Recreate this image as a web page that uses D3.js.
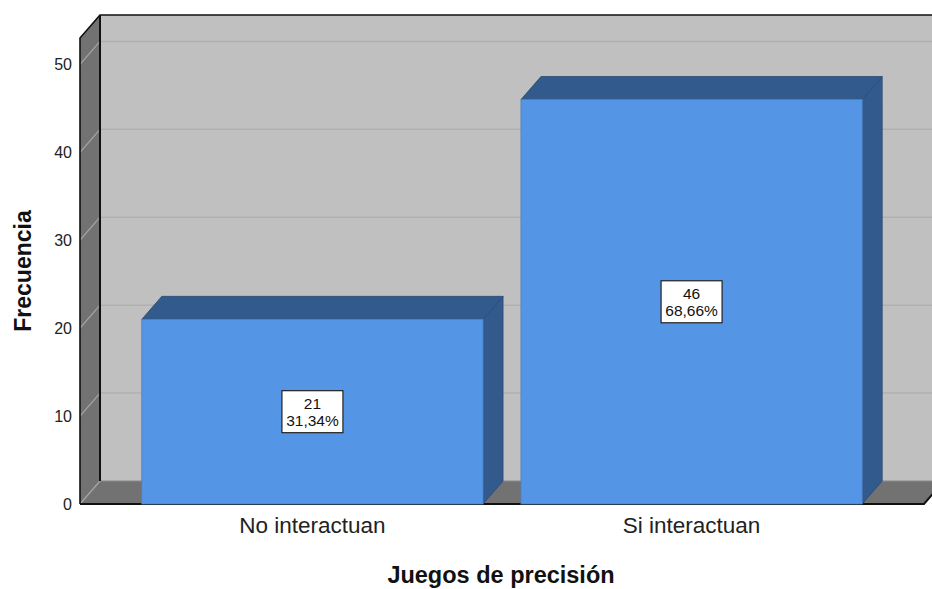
<!DOCTYPE html>
<html>
<head>
<meta charset="utf-8">
<script src="https://cdn.jsdelivr.net/npm/d3@7"></script>
<style>
  html, body { margin: 0; padding: 0; background: #ffffff; }
  svg { display: block; font-family: "Liberation Sans", Arial, sans-serif; }
</style>
</head>
<body>
<svg id="chart" width="932" height="589"></svg>
<script>
// Data
const categories = ["No interactuan", "Si interactuan"];
const counts = [21, 46];
const percents = ["31,34%", "68,66%"];
const yTicks = [0, 10, 20, 30, 40, 50];
const xTitle = "Juegos de precisión";
const yTitle = "Frecuencia";

(function draw() {
  const W = 932;
  const svg = d3.select("#chart");

  // Front plane and 3D depth offset
  const pLeft = 80, pRight = 924, pBottom = 504, pTop = 38;
  const dx = 20, dy = -23;

  const x = d3.scaleBand().domain(categories).range([pLeft, pRight])
    .paddingInner(0.1).paddingOuter(0.163);
  const y = d3.scaleLinear().domain([0, 53]).range([pBottom, pTop]);

  const colors = {
    wall: "#c0c0c0",
    sideWall: "#727272",
    grid: "#b0b0b0",
    front: "#5595e5",
    shade: "#335a8c",
    edge: "#2a4a75"
  };

  // Back wall
  svg.append("rect")
    .attr("x", pLeft + dx).attr("y", pTop + dy)
    .attr("width", W - pLeft)
    .attr("height", pBottom - pTop)
    .attr("fill", colors.wall);

  // Gridlines on the back wall
  svg.append("g").selectAll("line").data(yTicks.filter(d => d > 0)).join("line")
    .attr("x1", pLeft + dx).attr("x2", W + 20)
    .attr("y1", d => y(d) + dy).attr("y2", d => y(d) + dy)
    .attr("stroke", colors.grid).attr("stroke-width", 1.5);

  // Floor
  svg.append("path")
    .attr("d", `M${pLeft},${pBottom} L${pRight},${pBottom} L${pRight + dx},${pBottom + dy} L${pLeft + dx},${pBottom + dy} Z`)
    .attr("fill", colors.sideWall);
  svg.append("line")
    .attr("x1", pLeft + dx).attr("x2", W + 20)
    .attr("y1", pBottom + dy).attr("y2", pBottom + dy)
    .attr("stroke", "#8a8a8a").attr("stroke-width", 1);

  // Left wall
  svg.append("path")
    .attr("d", `M${pLeft},${pBottom} L${pLeft},${pTop} L${pLeft + dx},${pTop + dy} L${pLeft + dx},${pBottom + dy} Z`)
    .attr("fill", colors.sideWall);

  // Diagonal gridlines on the left wall and floor corner
  svg.append("g").selectAll("line").data(yTicks).join("line")
    .attr("x1", pLeft).attr("x2", pLeft + dx)
    .attr("y1", d => y(d)).attr("y2", d => y(d) + dy)
    .attr("stroke", "#a6a6a6").attr("stroke-width", 1.2);

  // Frame edges
  svg.append("path")
    .attr("d", `M${pLeft},${pBottom} L${pLeft},${pTop} L${pLeft + dx},${pTop + dy} L${W + 20},${pTop + dy}`)
    .attr("fill", "none").attr("stroke", "#111").attr("stroke-width", 1.6);
  svg.append("line")
    .attr("x1", pLeft + dx).attr("x2", pLeft + dx)
    .attr("y1", pTop + dy).attr("y2", pBottom + dy)
    .attr("stroke", "#111").attr("stroke-width", 2);
  svg.append("path")
    .attr("d", `M${pLeft},${pBottom} L${pRight},${pBottom} L${pRight + dx},${pBottom + dy}`)
    .attr("fill", "none").attr("stroke", "#111").attr("stroke-width", 2);

  // Bars
  const bars = svg.append("g").selectAll("g").data(categories).join("g");
  bars.append("path") // side face
    .attr("d", (c, i) => {
      const x1 = x(c) + x.bandwidth();
      return `M${x1},${y(counts[i])} L${x1 + dx},${y(counts[i]) + dy} L${x1 + dx},${pBottom + dy} L${x1},${pBottom} Z`;
    })
    .attr("fill", colors.shade).attr("stroke", colors.edge).attr("stroke-width", 0.8);
  bars.append("path") // top face
    .attr("d", (c, i) => {
      const x0 = x(c), x1 = x(c) + x.bandwidth(), yy = y(counts[i]);
      return `M${x0},${yy} L${x0 + dx},${yy + dy} L${x1 + dx},${yy + dy} L${x1},${yy} Z`;
    })
    .attr("fill", colors.shade).attr("stroke", colors.edge).attr("stroke-width", 0.8);
  bars.append("rect") // front face
    .attr("x", c => x(c))
    .attr("y", (c, i) => y(counts[i]))
    .attr("width", x.bandwidth())
    .attr("height", (c, i) => pBottom - y(counts[i]))
    .attr("fill", colors.front).attr("stroke", "#4a7fc4").attr("stroke-width", 0.8);

  // Value labels (count and percentage)
  const labels = svg.append("g").selectAll("g").data(categories).join("g")
    .attr("transform", (c, i) => `translate(${x(c) + x.bandwidth() / 2},${(y(counts[i]) + pBottom) / 2})`);
  labels.append("rect")
    .attr("x", -30.5).attr("y", -21).attr("width", 61).attr("height", 42)
    .attr("fill", "#fff").attr("stroke", "#222").attr("stroke-width", 1.2);
  labels.append("text")
    .attr("text-anchor", "middle").attr("y", -3)
    .attr("font-size", 15.5).attr("fill", "#111")
    .text((c, i) => counts[i]);
  labels.append("text")
    .attr("text-anchor", "middle").attr("y", 14)
    .attr("font-size", 15.5).attr("fill", "#111")
    .text((c, i) => percents[i]);

  // Y axis tick labels
  const yAxis = svg.append("g")
    .attr("transform", `translate(${pLeft - 2},0)`)
    .call(d3.axisLeft(y).tickValues(yTicks).tickSize(0).tickPadding(6).tickFormat(d3.format("d")));
  yAxis.select(".domain").remove();
  yAxis.selectAll("text")
    .attr("font-size", 16).attr("font-family", "'Liberation Sans', Arial, sans-serif")
    .attr("fill", "#222");

  // X axis category labels
  const xAxis = svg.append("g")
    .attr("transform", `translate(0,${pBottom})`)
    .call(d3.axisBottom(x).tickSize(0).tickPadding(13));
  xAxis.select(".domain").remove();
  xAxis.selectAll("text")
    .attr("font-size", 22.5).attr("font-family", "'Liberation Sans', Arial, sans-serif")
    .attr("fill", "#222");

  // Axis titles
  svg.append("text")
    .attr("x", 501).attr("y", 583)
    .attr("text-anchor", "middle")
    .attr("font-size", 23.5).attr("font-weight", "bold").attr("fill", "#111")
    .text(xTitle);
  svg.append("text")
    .attr("transform", "translate(31,271) rotate(-90)")
    .attr("text-anchor", "middle")
    .attr("font-size", 23).attr("font-weight", "bold").attr("fill", "#111")
    .text(yTitle);
})();
</script>
</body>
</html>
